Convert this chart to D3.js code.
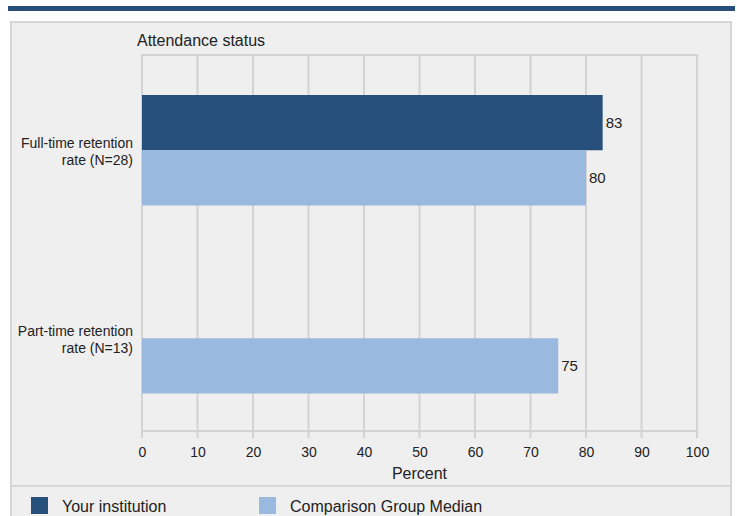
<!DOCTYPE html>
<html>
<head>
<meta charset="utf-8">
<script src="https://cdn.jsdelivr.net/npm/d3@7"></script>
<style>
  html, body { margin: 0; padding: 0; background: #ffffff; }
  svg { display: block; font-family: "Liberation Sans", Arial, sans-serif; }
</style>
</head>
<body>
<svg id="chart" width="737" height="516"></svg>
<script>
const categories = ["Full-time retention rate (N=28)", "Part-time retention rate (N=13)"];
const categoryLines = [["Full-time retention", "rate (N=28)"], ["Part-time retention", "rate (N=13)"]];
const seriesNames = ["Your institution", "Comparison Group Median"];
const yourInstitution = [83, null];
const comparisonMedian = [80, 75];
const xTicks = [0, 10, 20, 30, 40, 50, 60, 70, 80, 90, 100];
const colors = ["#264f7c", "#9ab9de"];

const svg = d3.select("#chart");

// top rule
svg.append("rect").attr("x", 8).attr("y", 6).attr("width", 727).attr("height", 5).attr("fill", "#264f7c");

// panel
svg.append("rect").attr("x", 11).attr("y", 22).attr("width", 720).attr("height", 500)
  .attr("fill", "#efefef").attr("stroke", "#d6d6d6").attr("stroke-width", 2);
svg.append("line").attr("x1", 11).attr("x2", 731).attr("y1", 486).attr("y2", 486)
  .attr("stroke", "#d6d6d6").attr("stroke-width", 2);

const x = d3.scaleLinear().domain([0, 100]).range([142, 697]);
const y = d3.scaleBand().domain(categories).range([55, 431]).paddingInner(0).paddingOuter(0);
const inner = d3.scaleBand().domain(seriesNames).range([-54, 56.5]);

// gridlines
svg.append("g").selectAll("line").data(xTicks).join("line")
  .attr("x1", d => x(d)).attr("x2", d => x(d))
  .attr("y1", 55).attr("y2", 438)
  .attr("stroke", "#d3d3d3").attr("stroke-width", 2);
svg.append("line").attr("x1", x(0) - 1).attr("x2", x(100) + 1).attr("y1", 55).attr("y2", 55)
  .attr("stroke", "#d3d3d3").attr("stroke-width", 2);
svg.append("line").attr("x1", x(0) - 1).attr("x2", x(100) + 1).attr("y1", 431).attr("y2", 431)
  .attr("stroke", "#d3d3d3").attr("stroke-width", 2);

// x axis labels
const xAxis = d3.axisBottom(x).tickValues(xTicks).tickSize(0).tickPadding(0);
const gx = svg.append("g").attr("transform", "translate(0,452)").call(xAxis);
gx.select(".domain").remove();
gx.selectAll("text").attr("fill", "#222").attr("font-size", "14px").attr("dy", "0.35em")
  .attr("font-family", "Liberation Sans, Arial, sans-serif");

svg.append("text").attr("x", x(50)).attr("y", 473).attr("dy", "0.35em").attr("text-anchor", "middle")
  .attr("font-size", "16px").attr("fill", "#222").text("Percent");

svg.append("text").attr("x", 137).attr("y", 40).attr("dy", "0.35em")
  .attr("font-size", "16px").attr("fill", "#222").text("Attendance status");

// bars
const rows = [];
categories.forEach((c, i) => {
  [yourInstitution[i], comparisonMedian[i]].forEach((v, j) => {
    if (v != null) rows.push({ cat: c, series: seriesNames[j], value: v, color: colors[j] });
  });
});
const center = c => y(c) + y.bandwidth() / 2;
svg.append("g").selectAll("rect").data(rows).join("rect")
  .attr("x", x(0))
  .attr("y", d => center(d.cat) + inner(d.series))
  .attr("width", d => x(d.value) - x(0))
  .attr("height", inner.bandwidth())
  .attr("fill", d => d.color);
svg.append("g").selectAll("text").data(rows).join("text")
  .attr("x", d => x(d.value) + 3)
  .attr("y", d => center(d.cat) + inner(d.series) + inner.bandwidth() / 2)
  .attr("dy", "0.35em").attr("font-size", "15px").attr("fill", "#222")
  .text(d => d.value);

// category labels
const gy = svg.append("g");
categories.forEach((c, i) => {
  const t = gy.append("text").attr("text-anchor", "end").attr("font-size", "14px").attr("fill", "#222");
  const lines = categoryLines[i];
  lines.forEach((l, k) => {
    t.append("tspan").attr("x", 133).attr("y", center(c) - 5.5 + k * 17).attr("dy", "0.35em").text(l);
  });
});

// legend
const legendX = [31, 259];
seriesNames.forEach((s, i) => {
  svg.append("rect").attr("x", legendX[i]).attr("y", 497).attr("width", 17).attr("height", 17).attr("fill", colors[i]);
  svg.append("text").attr("x", legendX[i] + 31).attr("y", 506).attr("dy", "0.35em")
    .attr("font-size", "16px").attr("fill", "#222").text(s);
});
</script>
</body>
</html>
